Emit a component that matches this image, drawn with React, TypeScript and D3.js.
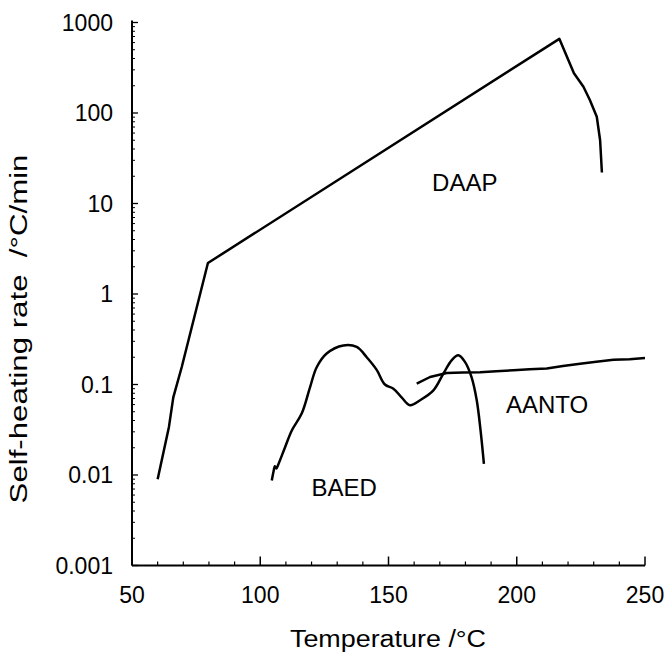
import { useEffect, useRef } from 'react';
import * as d3 from 'd3';

// DAAP curve
const daapTemp = [60, 64.4, 66.1, 69.4, 79.6, 216.6, 222.3, 226, 228.5, 231.2, 232.5, 233.2];
const daapRate = [0.009, 0.034, 0.072, 0.156, 2.2, 660, 275, 195, 139, 91, 50, 22];

// BAED curve
const baedTemp = [104.5, 105.2, 105.7, 106.3, 107, 109.6, 112.3, 116.2, 119.4, 122, 125.9, 132.4, 137.6, 141.5, 145.4, 148.6, 151.9, 155.1, 158.4, 162.3, 167.5, 171.4, 174.6, 177.2, 179.8, 182.4, 184.4, 185.9, 187.2];
const baedRate = [0.0087, 0.011, 0.0125, 0.0118, 0.013, 0.02, 0.031, 0.048, 0.093, 0.155, 0.22, 0.27, 0.26, 0.2, 0.145, 0.1, 0.09, 0.072, 0.059, 0.067, 0.086, 0.132, 0.185, 0.21, 0.178, 0.12, 0.067, 0.031, 0.0133];

// AANTO curve
const aantoTemp = [161, 166.2, 172.7, 179, 185.7, 192, 198.7, 205, 211.7, 218, 224.7, 231, 237.7, 244, 250];
const aantoRate = [0.102, 0.121, 0.134, 0.136, 0.137, 0.14, 0.144, 0.147, 0.15, 0.16, 0.17, 0.178, 0.188, 0.19, 0.196];

const xTicks = [50, 100, 150, 200, 250];
const yTicks = [0.001, 0.01, 0.1, 1, 10, 100, 1000];
const yTickLabels = ['0.001', '0.01', '0.1', '1', '10', '100', '1000'];

const curveLabels = ['DAAP', 'AANTO', 'BAED'];
const labelTemp = [167, 195.8, 120];
const labelRate = [13.7, 0.048, 0.0059];

const App = () => {
  const ref = useRef<SVGSVGElement>(null);

  useEffect(() => {
    const svg = d3.select(ref.current);
    svg.selectAll('*').remove();

    const font = '"Liberation Sans", Arial, sans-serif';
    const x = d3.scaleLinear().domain([50, 250]).range([132, 645]);
    const y = d3.scaleLog().domain([0.001, 1000]).range([565.5, 22.5]);

    const g = svg.append('g');

    // axes lines
    g.append('line')
      .attr('x1', x(50)).attr('x2', x(50))
      .attr('y1', y(1000) - 2).attr('y2', y(0.001))
      .attr('stroke', '#000').attr('stroke-width', 2);
    g.append('line')
      .attr('x1', x(50)).attr('x2', x(250))
      .attr('y1', y(0.001)).attr('y2', y(0.001))
      .attr('stroke', '#000').attr('stroke-width', 2);

    // x ticks (inside, pointing up)
    const xMinor = d3.range(60, 250, 10).filter((d) => d % 50 !== 0);
    g.selectAll('.xminor').data(xMinor).enter().append('line')
      .attr('x1', (d) => x(d)).attr('x2', (d) => x(d))
      .attr('y1', y(0.001)).attr('y2', y(0.001) - 4)
      .attr('stroke', '#000').attr('stroke-width', 1.2);
    g.selectAll('.xmajor').data(xTicks).enter().append('line')
      .attr('x1', (d) => x(d)).attr('x2', (d) => x(d))
      .attr('y1', y(0.001)).attr('y2', y(0.001) - 9)
      .attr('stroke', '#000').attr('stroke-width', 1.5);
    g.selectAll('.xlab').data(xTicks).enter().append('text')
      .attr('x', (d) => x(d)).attr('y', 603)
      .attr('text-anchor', 'middle')
      .style('font-family', font).style('font-size', '23px')
      .text((d) => String(d));

    // y ticks (inside, pointing right)
    const yMinor: number[] = [];
    for (let e = -3; e < 3; e++) for (let k = 2; k < 10; k++) yMinor.push(k * Math.pow(10, e));
    g.selectAll('.yminor').data(yMinor).enter().append('line')
      .attr('x1', x(50)).attr('x2', x(50) + 3)
      .attr('y1', (d) => y(d)).attr('y2', (d) => y(d))
      .attr('stroke', '#000').attr('stroke-width', 1);
    g.selectAll('.ymajor').data(yTicks).enter().append('line')
      .attr('x1', x(50)).attr('x2', x(50) + 6)
      .attr('y1', (d) => y(d)).attr('y2', (d) => y(d))
      .attr('stroke', '#000').attr('stroke-width', 1.3);
    g.selectAll('.ylab').data(yTicks).enter().append('text')
      .attr('x', 113).attr('y', (d) => y(d) + 8)
      .attr('text-anchor', 'end')
      .style('font-family', font).style('font-size', '23px')
      .text((d, i) => yTickLabels[i]);

    // axis titles (the scanned lettering is wider than Arial)
    g.append('text')
      .attr('transform', 'translate(388,647) scale(1.17,1)')
      .attr('text-anchor', 'middle')
      .style('font-family', font).style('font-size', '23px')
      .text('Temperature /°C');
    g.append('text')
      .attr('transform', 'translate(27,329) rotate(-90) scale(1.3,1)')
      .attr('text-anchor', 'middle')
      .style('font-family', font).style('font-size', '24px')
      .style('white-space', 'pre')
      .text('Self-heating rate  /°C/min');

    // curves
    const series = [
      { t: daapTemp, v: daapRate, curve: d3.curveLinear },
      { t: baedTemp, v: baedRate, curve: d3.curveCatmullRom },
      { t: aantoTemp, v: aantoRate, curve: d3.curveLinear },
    ];
    series.forEach((s) => {
      const pts = s.t.map((t, i) => [t, s.v[i]] as [number, number]);
      const line = d3.line<[number, number]>()
        .x((d) => x(d[0]))
        .y((d) => y(d[1]))
        .curve(s.curve);
      g.append('path')
        .datum(pts)
        .attr('d', line)
        .attr('fill', 'none')
        .attr('stroke', '#000')
        .attr('stroke-width', 2.5)
        .attr('stroke-linejoin', 'round');
    });

    // curve labels
    g.selectAll('.clab').data(curveLabels).enter().append('text')
      .attr('x', (d, i) => x(labelTemp[i]))
      .attr('y', (d, i) => y(labelRate[i]))
      .style('font-family', font).style('font-size', '24px')
      .text((d) => d);
  }, []);

  return (
    <svg
      ref={ref}
      width={669}
      height={668}
      style={{ position: 'absolute', left: 0, top: 0, background: '#fff' }}
    />
  );
};

export default App;
